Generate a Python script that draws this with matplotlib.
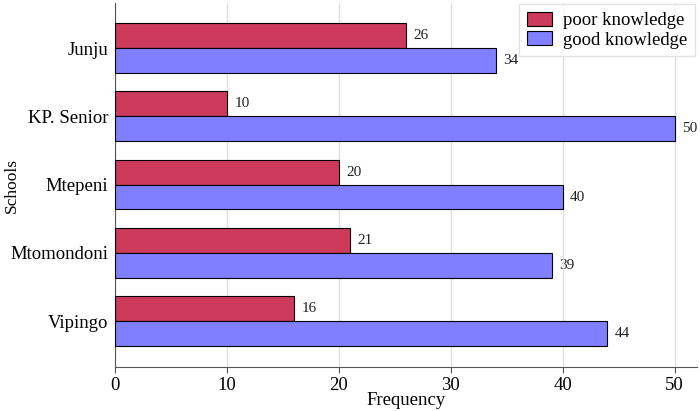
import matplotlib
matplotlib.use("Agg")
import matplotlib.pyplot as plt
import numpy as np

schools = ["Vipingo", "Mtomondoni", "Mtepeni", "KP. Senior", "Junju"]
poor = [16, 21, 20, 10, 26]
good = [44, 39, 40, 50, 34]

plt.rcParams['font.family'] = ['Liberation Serif', 'DejaVu Serif']

fig = plt.figure(figsize=(7, 4.11), dpi=100)
ax = fig.add_axes([115/700, 1-367/411, (697-115)/700, (367-3)/411])

y = np.arange(len(schools))
h = 0.366
red = "#CC3A5C"
blue = "#7F7FFF"
b1 = ax.barh(y + h/2, poor, height=h, color=red, edgecolor="black", linewidth=0.8, label="poor knowledge", zorder=3)
b2 = ax.barh(y - h/2, good, height=h, color=blue, edgecolor="black", linewidth=0.8, label="good knowledge", zorder=3)
for bars in (b1, b2):
    for r in bars:
        ax.text(r.get_width() + 0.65, r.get_y() + r.get_height()/2, f"{int(r.get_width())}",
                va="center", ha="left", fontsize=11, color="#222222", zorder=1)

ax.set_yticks(y)
ax.set_yticklabels(schools, fontsize=13.5)
ax.set_xlim(0, 52)
ax.set_ylim(-0.674, 4.66)
ax.set_xticks([0, 10, 20, 30, 40, 50])
ax.tick_params(axis='x', labelsize=13.5, length=4, color="#555555", pad=3)
ax.tick_params(axis='y', length=0, pad=5)
ax.grid(axis='x', color="#dddddd", linewidth=1, zorder=0)
for s in ["top", "right"]:
    ax.spines[s].set_visible(False)
for s in ["left", "bottom"]:
    ax.spines[s].set_color("#555555")
ax.set_xlabel("Frequency", fontsize=13.5, labelpad=-1)
ax.set_ylabel("Schools", fontsize=12.5)
ax.yaxis.set_label_coords(-0.164, 0.5)
leg = ax.legend(loc="upper right", fontsize=13.5, frameon=True, fancybox=False,
                edgecolor="#dddddd", borderpad=0.4, handlelength=1.35, handleheight=0.8,
                handletextpad=0.6, labelspacing=0.1, borderaxespad=0,
                bbox_to_anchor=(0.9966, 0.997))
leg.set_zorder(5)
fig.savefig("out.png", dpi=100)
